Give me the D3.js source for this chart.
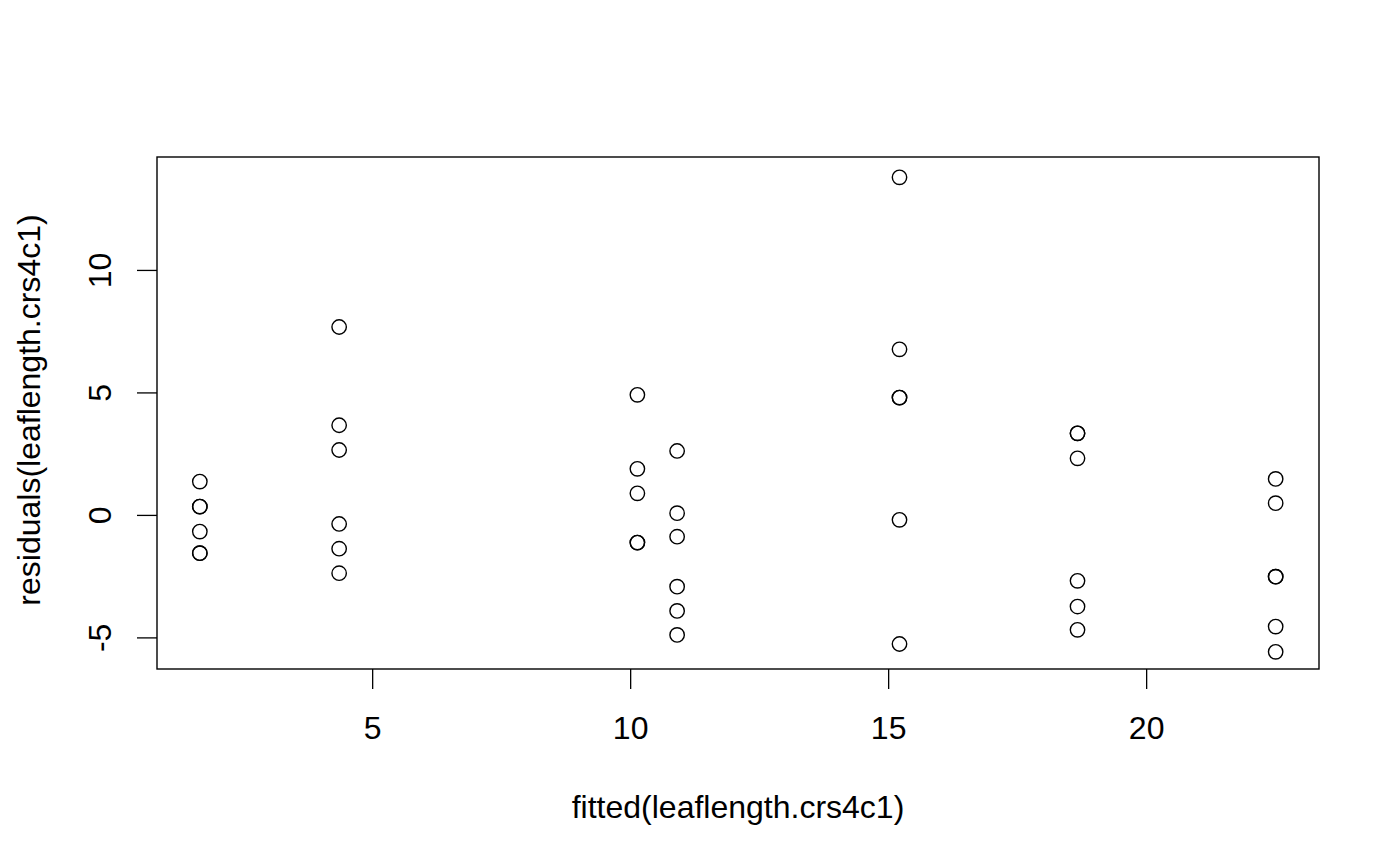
<!DOCTYPE html>
<html>
<head>
<meta charset="utf-8">
<script src="https://cdn.jsdelivr.net/npm/d3@7"></script>
<style>
  body { margin: 0; background: #fff; }
  text { font-family: "Liberation Sans", Arial, sans-serif; fill: #000; }
</style>
</head>
<body>
<div id="plot"></div>
<script>
// residuals vs fitted, one entry per observation
var fitted = [
  1.66, 1.66, 1.66, 1.66, 1.66, 1.66,
  4.36, 4.36, 4.36, 4.36, 4.36, 4.36,
  10.14, 10.14, 10.14, 10.14, 10.14,
  10.91, 10.91, 10.91, 10.91, 10.91, 10.91,
  15.22, 15.22, 15.22, 15.22, 15.22, 15.22,
  18.67, 18.67, 18.67, 18.67, 18.67, 18.67,
  22.51, 22.51, 22.51, 22.51, 22.51, 22.51
];
var resid = [
  1.36, 0.34, 0.34, -0.68, -1.56, -1.56,
  7.67, 3.66, 2.65, -0.37, -1.38, -2.38,
  4.90, 1.88, 0.88, -1.13, -1.13,
  2.61, 0.07, -0.89, -2.93, -3.92, -4.90,
  13.78, 6.76, 4.79, 4.79, -0.20, -5.27,
  3.33, 3.33, 2.31, -2.69, -3.74, -4.69,
  1.47, 0.48, -2.52, -2.52, -4.56, -5.59
];
var xTicks = [5, 10, 15, 20];
var yTicks = [-5, 0, 5, 10];
var xLabel = "fitted(leaflength.crs4c1)";
var yLabel = "residuals(leaflength.crs4c1)";

var svgWidth = 1400;
var svgHeight = 866;
var margin = {top: 157, right: 81, bottom: 197, left: 157};
var width = svgWidth - margin.left - margin.right;
var height = svgHeight - margin.top - margin.bottom;
var fontSize = "32px";

var svg = d3.select("#plot")
  .append("svg")
  .attr("width", svgWidth)
  .attr("height", svgHeight);
var chartGroup = svg.append("g")
  .attr("transform", `translate(${margin.left}, ${margin.top})`);

// scales
var xScale = d3.scaleLinear()
  .domain([0.83, 23.35])
  .range([0, width]);
var yScale = d3.scaleLinear()
  .domain([-6.29, 14.61])
  .range([height, 0]);

// axes (R style: plain hyphen minus)
var xAxis = chartGroup.append("g")
  .attr("transform", `translate(0, ${height})`)
  .call(d3.axisBottom(xScale).tickValues(xTicks).tickFormat(d => String(d)).tickSize(20).tickSizeOuter(0));
xAxis.select(".domain").remove();
xAxis.selectAll("line").attr("stroke", "#000").attr("stroke-width", 1.3);
xAxis.selectAll("text")
  .attr("y", 70)
  .attr("dy", null)
  .attr("font-size", fontSize)
  .attr("font-family", "Liberation Sans, Arial, sans-serif");

var yAxis = chartGroup.append("g")
  .call(d3.axisLeft(yScale).tickValues(yTicks).tickFormat(d => String(d)).tickSize(20).tickSizeOuter(0));
yAxis.select(".domain").remove();
yAxis.selectAll("line").attr("stroke", "#000").attr("stroke-width", 1.3);
yAxis.selectAll("text")
  .attr("x", null)
  .attr("dy", null)
  .attr("text-anchor", "middle")
  .attr("transform", "translate(-46, 0) rotate(-90)")
  .attr("font-size", fontSize)
  .attr("font-family", "Liberation Sans, Arial, sans-serif");

// box
chartGroup.append("rect")
  .attr("x", 0)
  .attr("y", 0)
  .attr("width", width)
  .attr("height", height)
  .attr("fill", "none")
  .attr("stroke", "#000")
  .attr("stroke-width", 1.4);

// points
chartGroup.selectAll("circle")
  .data(fitted)
  .enter()
  .append("circle")
  .attr("cx", d => xScale(d))
  .attr("cy", (d, i) => yScale(resid[i]))
  .attr("r", 7.2)
  .attr("fill", "none")
  .attr("stroke", "#000")
  .attr("stroke-width", 1.4);

// axis labels
svg.append("text")
  .attr("x", margin.left + width / 2)
  .attr("y", 818)
  .attr("text-anchor", "middle")
  .attr("font-size", fontSize)
  .text(xLabel);
svg.append("text")
  .attr("transform", `translate(40, ${margin.top + height / 2 - 3}) rotate(-90)`)
  .attr("text-anchor", "middle")
  .attr("font-size", fontSize)
  .text(yLabel);
</script>
</body>
</html>
